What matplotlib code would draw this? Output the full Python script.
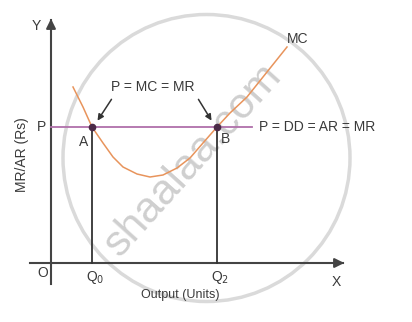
import matplotlib.pyplot as plt
from matplotlib.patches import Circle

plt.rcParams['font.family'] = ['Liberation Sans', 'DejaVu Sans']

# diagram units: 1 unit ~ 1 pixel, origin at O
mc_x = [22, 32, 41, 52, 62, 72, 86, 99, 112, 126, 139, 152, 166, 179, 196, 212, 224, 236]
mc_y = [176, 156, 136, 120, 106, 96, 89, 86, 88, 95, 105, 120, 136, 150, 166, 186, 201, 216]
price = 136
q0 = 41
q2 = 166
price_line_end = 201
x_axis = (-21, 292)
y_axis = (-21, 243)

TXT = '#3a3a3a'

fig = plt.figure(figsize=(4.12, 3.22), dpi=100)
ax = fig.add_axes([0, 0, 1, 1])
ax.set_xlim(-51, 361)
ax.set_ylim(-59, 263)
ax.axis('off')

# watermark
ax.add_patch(Circle((155.5, 105), 143.5, fill=False, ec='#dadada', lw=2.5, zorder=0))
ax.text(142, 103, 'shaalaa.com', rotation=48, fontsize=31, color='#cfcfcf',
        ha='center', va='center', zorder=0)

# axes with arrows
ax.plot(x_axis, [0, 0], color='#444444', lw=1.5, zorder=2)
ax.plot([0, 0], y_axis, color='#444444', lw=1.5, zorder=2)
ax.annotate('', xy=(x_axis[1] + 4, 0), xytext=(x_axis[1] - 10, 0),
            arrowprops=dict(arrowstyle='-|>', color='#444444', lw=1.5, mutation_scale=14))
ax.annotate('', xy=(0, y_axis[1] + 4), xytext=(0, y_axis[1] - 10),
            arrowprops=dict(arrowstyle='-|>', color='#444444', lw=1.5, mutation_scale=14))

# price line and verticals
ax.plot([0, price_line_end], [price, price], color='#b070aa', lw=1.3, zorder=3)
ax.plot([q0, q0], [0, price], color='#333333', lw=1.3, zorder=3)
ax.plot([q2, q2], [0, price], color='#333333', lw=1.3, zorder=3)

# MC curve
ax.plot(mc_x, mc_y, color='#e8945c', lw=1.1, zorder=4, solid_joinstyle='round')
ax.plot([q0, q2], [price, price], 'o', color='#4b2a48', ms=4.5, zorder=5)

# arrows to A and B
ax.annotate('', xy=(45, 140), xytext=(62, 166),
            arrowprops=dict(arrowstyle='-|>', color='#333333', lw=1.1, mutation_scale=9))
ax.annotate('', xy=(162, 140), xytext=(146, 166),
            arrowprops=dict(arrowstyle='-|>', color='#333333', lw=1.1, mutation_scale=9))

fs = 10
ax.text(102, 176, 'P = MC = MR', fontsize=fs, color=TXT, ha='center', va='center')
ax.text(208, 136, 'P = DD = AR = MR', fontsize=fs, color=TXT, ha='left', va='center')
ax.text(236, 224, 'MC', fontsize=fs, color=TXT, ha='left', va='center')
ax.text(-15, 237, 'Y', fontsize=fs, color=TXT, ha='center', va='center')
ax.text(-9, price, 'P', fontsize=fs, color=TXT, ha='center', va='center')
ax.text(33, 121, 'A', fontsize=fs, color=TXT, ha='center', va='center')
ax.text(175, 124, 'B', fontsize=fs, color=TXT, ha='center', va='center')
ax.text(-8, -10, 'O', fontsize=fs, color=TXT, ha='center', va='center')
ax.text(q0 + 3, -15, 'Q$_0$', fontsize=fs, color=TXT, ha='center', va='center')
ax.text(q2 + 3, -15, 'Q$_2$', fontsize=fs, color=TXT, ha='center', va='center')
ax.text(285, -19, 'X', fontsize=fs, color=TXT, ha='center', va='center')
ax.text(129, -32, 'Output (Units)', fontsize=9, color=TXT, ha='center', va='center')
ax.text(-29, 108, 'MR/AR (Rs)', fontsize=fs, color=TXT, ha='center', va='center',
        rotation=90)

fig.savefig('out.png', dpi=100)
